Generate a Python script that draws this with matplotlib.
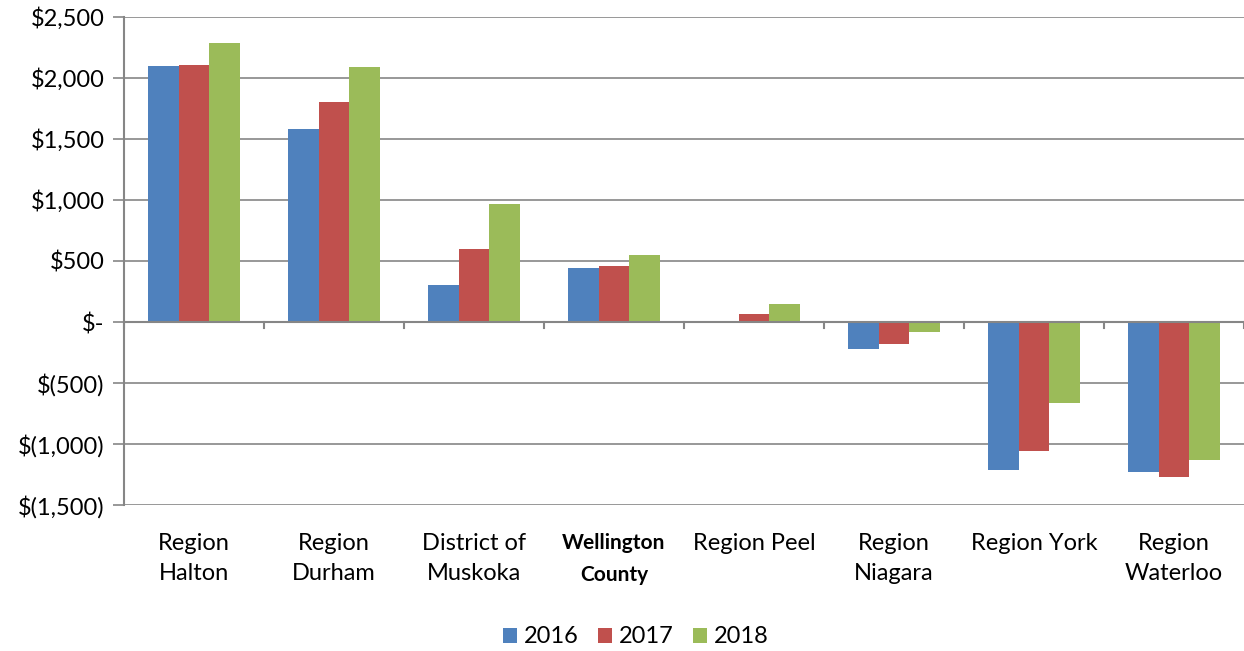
import numpy as np
import matplotlib
matplotlib.use("Agg")
import matplotlib.pyplot as plt
from matplotlib.ticker import FuncFormatter

# ------------------------------------------------------------
# Data
# ------------------------------------------------------------
categories = ["Region\nHalton", "Region\nDurham", "District of\nMuskoka",
              "Wellington\nCounty", "Region Peel", "Region\nNiagara",
              "Region York", "Region\nWaterloo"]
years = ["2016", "2017", "2018"]
v2016 = [2100, 1580, 300, 440, 5, -220, -1210, -1230]
v2017 = [2110, 1800, 600, 455, 65, -180, -1055, -1270]
v2018 = [2285, 2090, 965, 550, 150, -80, -660, -1135]
colors = ["#4f81bd", "#c0504d", "#9bbb59"]

plt.rcParams["font.family"] = ["Lato", "DejaVu Sans"]
FS = 17


def money(v, pos):
    if v == 0:
        return "$-"
    if v < 0:
        return f"$({abs(v):,.0f})"
    return f"${v:,.0f}"


fig = plt.figure(figsize=(12.44, 6.51), dpi=100)
ax = fig.add_axes([124 / 1244, 146 / 651, 1120 / 1244, 488 / 651])

x = np.arange(len(categories))
w = 0.22
for i, (vals, yr) in enumerate(zip([v2016, v2017, v2018], years)):
    ax.bar(x + (i - 1) * w, vals, width=w, color=colors[i], label=yr, zorder=3)

ax.set_xlim(-0.5, len(categories) - 0.5)
ax.set_ylim(-1500, 2500)
ax.set_yticks(np.arange(-1500, 2501, 500))
ax.yaxis.set_major_formatter(FuncFormatter(money))
ax.grid(axis="y", color="#868686", lw=1.2, zorder=0)

# zero axis with category boundary ticks
ax.axhline(0, color="#868686", lw=1.5, zorder=4)
for b in np.arange(-0.5, len(categories) - 0.4, 1.0):
    ax.plot([b, b], [0, -50], color="#868686", lw=1.5, zorder=4, clip_on=False)

for sp in ("top", "right", "bottom"):
    ax.spines[sp].set_visible(False)
ax.spines["left"].set_color("#868686")
ax.spines["left"].set_linewidth(1.5)
ax.tick_params(axis="y", length=8, width=1.2, color="#868686",
               labelsize=FS, pad=6)

ax.set_xticks(x)
ax.set_xticklabels(categories, fontsize=FS, linespacing=1.55)
ax.tick_params(axis="x", length=0, pad=20)
for lbl in ax.get_xticklabels():
    if lbl.get_text().startswith("Wellington"):
        lbl.set_fontweight("bold")
        lbl.set_fontsize(15)
        lbl.set_linespacing(1.75)

fig.legend(loc="lower center", bbox_to_anchor=(0.511, -0.027), ncol=3,
           frameon=False, fontsize=FS, handlelength=0.6, handleheight=0.6,
           handletextpad=0.3, columnspacing=0.8)

fig.savefig("out.png", dpi=100)
